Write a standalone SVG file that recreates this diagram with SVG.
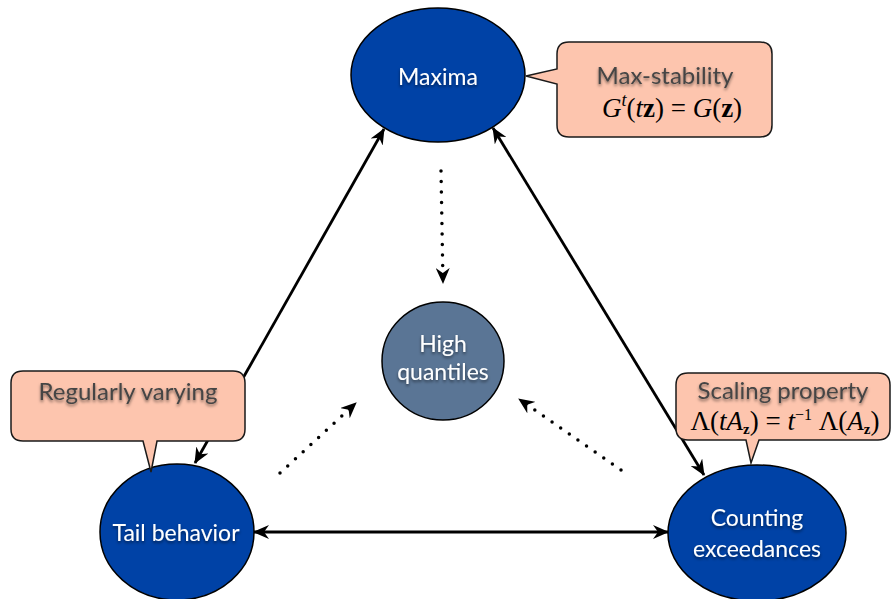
<svg xmlns="http://www.w3.org/2000/svg" width="893" height="599" viewBox="0 0 893 599">
<defs>
<style>
.node{fill:#0042a6;stroke:#000;stroke-width:1.5}
.hq{fill:#5a7595;stroke:#000;stroke-width:1.5}
.nt{font-family:Lato,"Open Sans",sans-serif;font-size:23px;fill:#fff;text-anchor:middle}
.co{fill:#fdc5ae;stroke:#1a1a1a;stroke-width:1.5}
.ct{font-family:Lato,"Open Sans",sans-serif;font-size:24px;fill:#454545;text-anchor:middle}
.fm{font-family:"Liberation Serif",serif;font-size:27px;fill:#000;text-anchor:middle}
.solid{stroke:#000;stroke-width:2.8;fill:none}
.dot{stroke:#000;stroke-width:3.5;fill:none;stroke-linecap:round;stroke-dasharray:0 10.5}
</style>
<marker id="ah" viewBox="0 0 16 14" refX="15" refY="7" markerWidth="16" markerHeight="14" markerUnits="userSpaceOnUse" orient="auto-start-reverse">
<path d="M0,0 L16,7 L0,14 L5,7 Z" fill="#000"/>
</marker>
<filter id="sh" x="-10%" y="-30%" width="120%" height="160%">
<feDropShadow dx="0" dy="2" stdDeviation="1.5" flood-color="#000" flood-opacity="0.5"/>
</filter>
</defs>

<g id="connectors">
<line class="solid" x1="195" y1="463" x2="384" y2="129" marker-start="url(#ah)" marker-end="url(#ah)"/>
<line class="solid" x1="493" y1="128" x2="704" y2="475" marker-start="url(#ah)" marker-end="url(#ah)"/>
<line class="solid" x1="254" y1="532" x2="668" y2="532" marker-start="url(#ah)" marker-end="url(#ah)"/>
<line class="dot" x1="441" y1="171" x2="443" y2="283" marker-end="url(#ah)"/>
<line class="dot" x1="280" y1="473" x2="356" y2="403" marker-end="url(#ah)"/>
<line class="dot" x1="621" y1="470" x2="519" y2="399" marker-end="url(#ah)"/>
</g>

<g id="maxima">
<ellipse class="node" cx="438" cy="75" rx="87" ry="67"/>
<text class="nt" x="438" y="85" font-size="24" filter="url(#sh)">Maxima</text>
</g>

<g id="high-quantiles">
<ellipse class="hq" cx="443" cy="361" rx="61" ry="59"/>
<text class="nt" x="443" y="352" filter="url(#sh)">High</text>
<text class="nt" x="443" y="380" filter="url(#sh)">quantiles</text>
</g>

<g id="tail-behavior">
<ellipse class="node" cx="177" cy="532" rx="77" ry="68"/>
<text class="nt" x="176" y="541" filter="url(#sh)">Tail behavior</text>
</g>

<g id="counting-exceedances">
<ellipse class="node" cx="757" cy="533" rx="89" ry="68"/>
<text class="nt" x="757" y="526" filter="url(#sh)">Counting</text>
<text class="nt" x="757" y="557" filter="url(#sh)">exceedances</text>
</g>

<g id="callout-max-stability">
<path class="co" d="M569,42 H760 Q772,42 772,54 V125 Q772,137 760,137 H569 Q557,137 557,125 V84 L526,76 L557,69 V54 Q557,42 569,42 Z"/>
<text class="ct" x="665" y="84" filter="url(#sh)">Max-stability</text>
<text class="fm" x="672" y="117"><tspan font-style="italic">G</tspan><tspan font-style="italic" font-size="18" dy="-11">t</tspan><tspan dy="11">(</tspan><tspan font-style="italic">t</tspan><tspan font-weight="bold">z</tspan>) = <tspan font-style="italic">G</tspan>(<tspan font-weight="bold">z</tspan>)</text>
</g>

<g id="callout-scaling">
<path class="co" d="M688,373 H878 Q890,373 890,385 V428 Q890,440 878,440 H759 L751,463 L746,440 H688 Q676,440 676,428 V385 Q676,373 688,373 Z"/>
<text class="ct" x="783" y="399" filter="url(#sh)">Scaling property</text>
<text class="fm" x="785" y="430" font-size="24">Λ(<tspan font-style="italic">tA</tspan><tspan font-weight="bold" font-size="15" dy="4">z</tspan><tspan dy="-4">) = </tspan><tspan font-style="italic">t</tspan><tspan font-size="16" dy="-10">−1</tspan><tspan dy="10"> Λ(</tspan><tspan font-style="italic">A</tspan><tspan font-weight="bold" font-size="15" dy="4">z</tspan><tspan dy="-4">)</tspan></text>
</g>

<g id="callout-regularly-varying">
<path class="co" d="M23,371 H233 Q245,371 245,383 V429 Q245,441 233,441 H157 L151,472 L143,441 H23 Q11,441 11,429 V383 Q11,371 23,371 Z"/>
<text class="ct" x="128" y="400" filter="url(#sh)">Regularly varying</text>
</g>
</svg>
